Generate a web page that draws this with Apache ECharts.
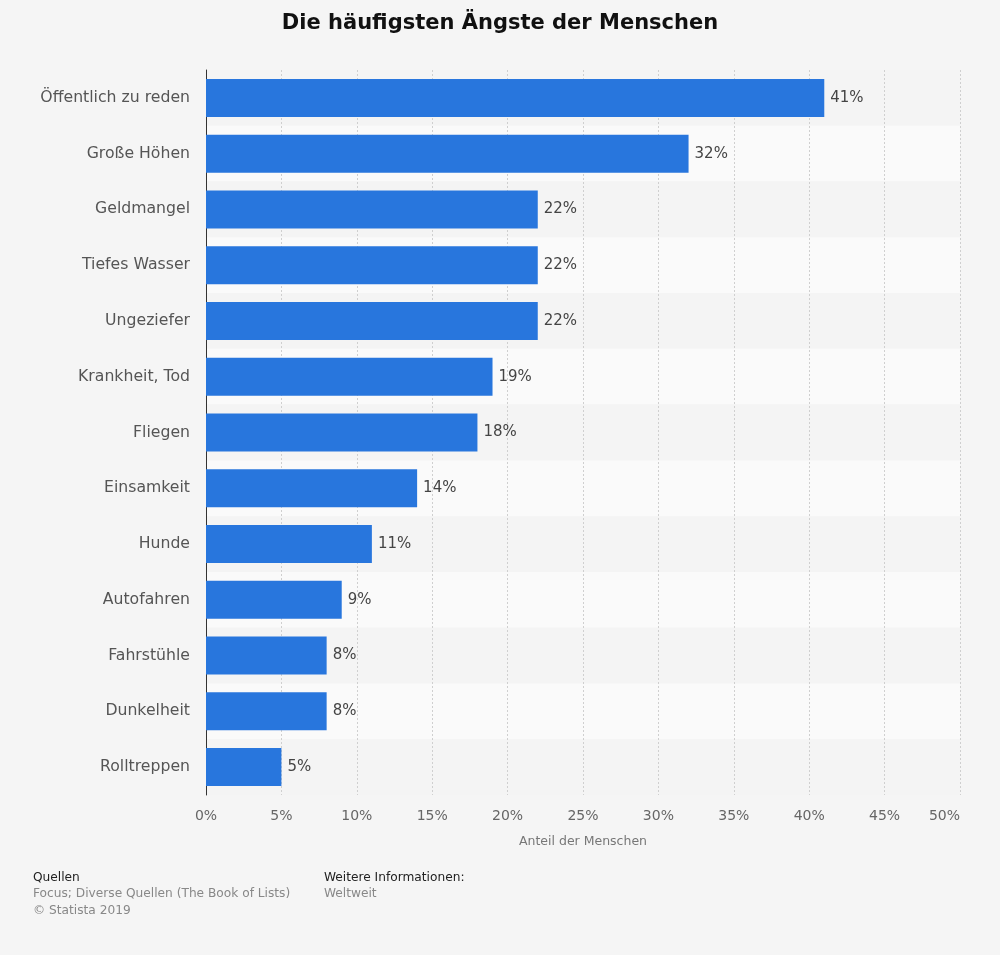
<!DOCTYPE html>
<html><head><meta charset="utf-8">
<script src="https://cdn.jsdelivr.net/npm/echarts@6/dist/echarts.min.js"></script>
<style>html,body{margin:0;padding:0;background:#f5f5f5}#c{width:1000px;height:955px}</style>
</head><body><div id="c"></div>
<script>
const categories = ["Öffentlich zu reden","Große Höhen","Geldmangel","Tiefes Wasser","Ungeziefer","Krankheit, Tod","Fliegen","Einsamkeit","Hunde","Autofahren","Fahrstühle","Dunkelheit","Rolltreppen"];
const values = [41,32,22,22,22,19,18,14,11,9,8,8,5];
const tickLabels = ["0%","5%","10%","15%","20%","25%","30%","35%","40%","45%","50%"];

const F = "DejaVu Sans";
const chart = echarts.init(document.getElementById('c'), null, {renderer:'canvas'});
chart.setOption({
  backgroundColor: '#f5f5f5',
  animation: false,
  title: {text: 'Die häufigsten Ängste der Menschen', left: 'center', top: 8,
    textStyle: {fontFamily: F, fontSize: 21, fontWeight: 'bold', color: '#111'}},
  grid: {left: 206, right: 40, top: 70, bottom: 160, containLabel: false},
  xAxis: {type: 'value', min: 0, max: 50, interval: 5,
    axisLine: {show: false}, axisTick: {show: false},
    splitLine: {show: true, lineStyle: {color: '#cfcfcf', type: [2,2], width: 1}},
    axisLabel: {color: '#666', fontFamily: F, fontSize: 14, margin: 14, alignMaxLabel: 'right',
      formatter: v => tickLabels[Math.round(v/5)]},
    name: 'Anteil der Menschen', nameLocation: 'middle', nameGap: 40,
    nameTextStyle: {color: '#777', fontFamily: F, fontSize: 12.5}},
  yAxis: {type: 'category', data: categories, inverse: true,
    axisLine: {show: true, lineStyle: {color: '#333', width: 1}},
    axisTick: {show: false},
    splitArea: {show: true, areaStyle: {color: ['#f4f4f4', '#fafafa']}},
    axisLabel: {color: '#555', fontFamily: F, fontSize: 15.7, margin: 16}},
  series: [{type: 'bar', data: values, barWidth: 38,
    itemStyle: {color: '#2876dd'},
    label: {show: true, position: 'right', distance: 6, formatter: '{c}%',
      color: '#444', fontFamily: F, fontSize: 15}}],
  graphic: [
    {type: 'text', left: 33, top: 872, style: {text: 'Quellen', fill: '#222', font: '12.2px "DejaVu Sans"'}},
    {type: 'text', left: 33, top: 888, style: {text: 'Focus; Diverse Quellen (The Book of Lists)', fill: '#888', font: '12.2px "DejaVu Sans"'}},
    {type: 'text', left: 33, top: 905, style: {text: '© Statista 2019', fill: '#888', font: '12.2px "DejaVu Sans"'}},
    {type: 'text', left: 324, top: 872, style: {text: 'Weitere Informationen:', fill: '#222', font: '12.2px "DejaVu Sans"'}},
    {type: 'text', left: 324, top: 888, style: {text: 'Weltweit', fill: '#888', font: '12.2px "DejaVu Sans"'}}
  ]
});
</script></body></html>
